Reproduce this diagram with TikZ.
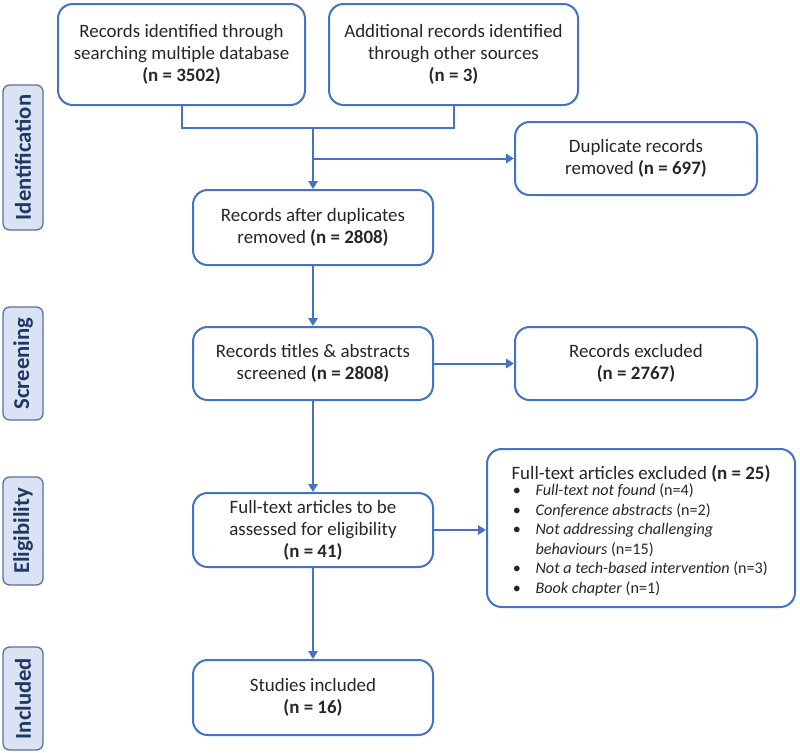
\documentclass[tikz,border=0pt]{standalone}
\usepackage{fontspec}
\setmainfont{Carlito}
\usetikzlibrary{arrows.meta}
\definecolor{bord}{HTML}{4472C4}
\definecolor{tabfill}{HTML}{DAE3F3}
\definecolor{tabtext}{HTML}{1F3864}
\definecolor{tabbord}{HTML}{5A6F99}
\begin{document}
\begin{tikzpicture}[x=0.75pt,y=-0.75pt,
  box/.style={draw=bord, line width=1.5pt, rounded corners=11pt, align=center,
    font=\fontsize{14.2}{16.5}\selectfont, inner sep=0pt, text=black!85},
  tabbox/.style={draw=tabbord, fill=tabfill, line width=1pt, rounded corners=5pt,
    font=\fontsize{17}{20}\selectfont\bfseries, text=tabtext, rotate=90,
    minimum height=30pt, inner sep=0pt},
  conn/.style={draw=bord, line width=1.5pt},
  arr/.style={conn, -{Triangle[length=6pt,width=7pt]}}]
\useasboundingbox (0,0) rectangle (800,753);

% side tabs
\node[tabbox, minimum width=108.75pt] (t1) at (23,157.5) {Identification};
\node[tabbox, minimum width=84.75pt] (t2) at (23,363.5) {Screening};
\node[tabbox, minimum width=81pt] (t3) at (23,531) {Eligibility};
\node[tabbox, minimum width=77.25pt] (t4) at (23,698.5) {Included};

% boxes
\node[box, minimum width=185.25pt, minimum height=75.75pt] (A) at (181.5,54.5)
  {Records identified through\\searching multiple database\\\textbf{(n = 3502)}};
\node[box, minimum width=186.75pt, minimum height=75.75pt] (B) at (453.5,54.5)
  {Additional records identified\\through other sources\\\textbf{(n = 3)}};
\node[box, minimum width=181.5pt, minimum height=54.75pt] (D) at (636,158.5)
  {Duplicate records\\removed \textbf{(n = 697)}};
\node[box, minimum width=180pt, minimum height=56.25pt] (C) at (313,227.5)
  {Records after duplicates\\removed \textbf{(n = 2808)}};
\node[box, minimum width=180pt, minimum height=54.75pt] (E) at (313,363.5)
  {Records titles \& abstracts\\screened \textbf{(n = 2808)}};
\node[box, minimum width=181.5pt, minimum height=54.75pt] (F) at (636,363.5)
  {Records excluded\\\textbf{(n = 2767)}};
\node[box, minimum width=180pt, minimum height=55.5pt] (G) at (313,530)
  {Full-text articles to be\\assessed for eligibility\\\textbf{(n = 41)}};
\node[box, minimum width=231pt, minimum height=118.5pt, align=left] (H) at (641,528)
  {\rule{0pt}{17pt}Full-text articles excluded \textbf{(n = 25)}\\[-1pt]
   {\fontsize{12.1}{14.6}\selectfont
   \begin{tabular}{@{\hspace{1pt}}l@{\hspace{11pt}}l@{}}
   \textbullet & \textit{Full-text not found} (n=4)\\
   \textbullet & \textit{Conference abstracts} (n=2)\\
   \textbullet & \textit{Not addressing challenging}\\
               & \textit{behaviours} (n=15)\\
   \textbullet & \textit{Not a tech-based intervention} (n=3)\\
   \textbullet & \textit{Book chapter} (n=1)
   \end{tabular}}};
\node[box, minimum width=180pt, minimum height=56.25pt] (I) at (313,697.5)
  {Studies included\\\textbf{(n = 16)}};

% connectors
\draw[conn] (A.south) -- ++(0,22) -| (B.south);
\coordinate (j) at (C.north |- 0,127);
\draw[arr] (j) -- (C.north);
\coordinate (k) at (C.north |- D.west);
\draw[arr] (k) -- (D.west);
\draw[arr] (C) -- (E);
\draw[arr] (E) -- (F);
\draw[arr] (E) -- (G);
\draw[arr] (G.east) -- (G.east -| H.west);
\draw[arr] (G) -- (I);
\end{tikzpicture}
\end{document}
